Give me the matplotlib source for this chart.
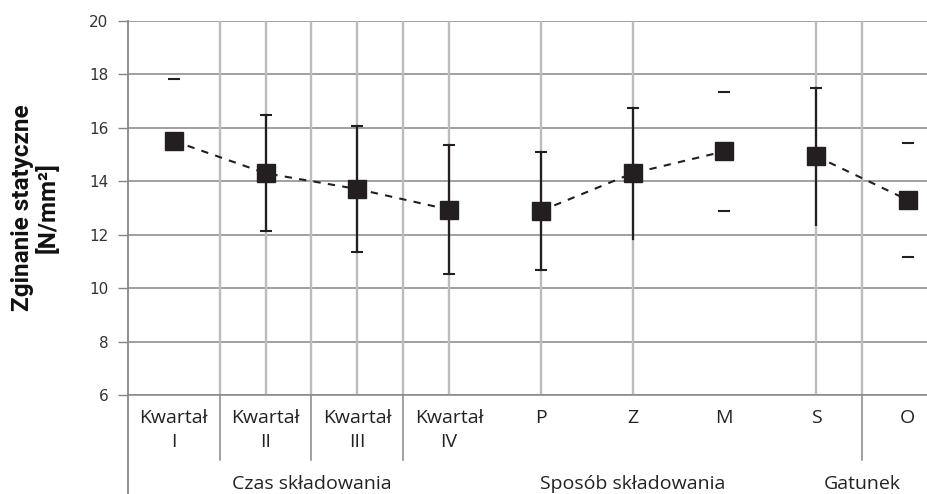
import matplotlib
matplotlib.use("Agg")
import matplotlib.pyplot as plt
import matplotlib.transforms as mtransforms

# ---- data ----
categories = ["Kwartał\nI", "Kwartał\nII", "Kwartał\nIII", "Kwartał\nIV", "P", "Z", "M", "S", "O"]
groups = ["Czas składowania", "Sposób składowania", "Gatunek"]
group_members = [[0, 1, 2, 3], [4, 5, 6], [7, 8]]
means = [15.51, 14.30, 13.71, 12.94, 12.89, 14.30, 15.12, 14.94, 13.30]
errors = [2.31, 2.17, 2.36, 2.42, 2.21, 2.46, 2.24, 2.56, 2.13]
y_ticks = [6, 8, 10, 12, 14, 16, 18, 20]

# rendering quirks of the original picture (style only)
stem_visible = [False, True, True, True, True, True, False, True, False]
lower_cap_visible = [False, True, True, True, True, False, True, False, True]
upper_cap_visible = [True, True, True, True, True, True, True, True, True]

W, H = 927, 494
fig = plt.figure(figsize=(W / 100, H / 100), dpi=100)
ax = fig.add_axes([128 / W, 99 / H, 799 / W, 374 / H])

narrow = ["Open Sans", "DejaVu Sans"]
dark = "#231f20"
grid_c = "#868686"
vline_c = "#bcbcbc"
text_c = "#222222"

ax.set_ylim(6, 20)
ax.set_xlim(-0.5, 8.21)
ax.set_yticks(y_ticks)
ax.set_yticklabels([str(v) for v in y_ticks], fontsize=11, color="#333333",
                   family=["DejaVu Sans"])
ax.tick_params(axis="y", length=7, width=1, color=grid_c, pad=7)
for v in y_ticks:
    ax.axhline(v, color=grid_c, lw=1.1, zorder=1)

# vertical lines
for xb in [0.5, 1.5, 2.5, 7.5]:
    ax.axvline(xb, color=vline_c, lw=1.7, zorder=1)
for i, s in enumerate(stem_visible):
    if s:
        ax.axvline(i, color=vline_c, lw=1.7, zorder=1)

for sp in ["top", "right"]:
    ax.spines[sp].set_visible(False)
ax.spines["left"].set_color(grid_c)
ax.spines["left"].set_linewidth(1.3)
ax.spines["bottom"].set_color(grid_c)
ax.spines["bottom"].set_linewidth(1.1)

# x tick labels
xs = list(range(len(categories)))
ax.set_xticks(xs)
ax.set_xticklabels(categories, fontsize=14, color=text_c, family=narrow,
                   linespacing=1.45)
ax.tick_params(axis="x", length=0, pad=10)

# separators below axis
trans = mtransforms.blended_transform_factory(ax.transData, ax.transAxes)
for xb in [0.5, 1.5, 2.5, 7.5]:
    ax.plot([xb, xb], [0, -0.174], transform=trans, color=grid_c, lw=1.1,
            clip_on=False)
ax.plot([-0.5, -0.5], [0, -0.27], transform=trans, color=grid_c, lw=1.3,
        clip_on=False)

# group labels
for g, mem in zip(groups, group_members):
    xc = (mem[0] + mem[-1]) / 2
    ax.text(xc, -0.238, g, transform=trans, ha="center", va="center",
            fontsize=14, color=text_c, family=narrow)

# dashed lines per group
for mem in group_members:
    ax.plot(mem, [means[i] for i in mem], color=dark, lw=1.5,
            dashes=(3.5, 3.5), zorder=3)

# error bars
for i, (m, e) in enumerate(zip(means, errors)):
    if stem_visible[i]:
        ax.plot([i, i], [m - e, m + e], color=dark, lw=1.6, zorder=4)
    if upper_cap_visible[i]:
        ax.plot([i], [m + e], marker="_", ms=9, mew=1.5, color=dark, zorder=4)
    if lower_cap_visible[i]:
        ax.plot([i], [m - e], marker="_", ms=9, mew=1.5, color=dark, zorder=4)

# markers
ax.plot(xs, means, linestyle="none", marker="s", ms=12.5, color=dark,
        zorder=5)

# y label
fig.text(35 / W, 1 - 208 / H, "Zginanie statyczne\n[N/mm²]", rotation=90,
         ha="center", va="center", fontsize=17.5, fontweight="bold",
         family=["Roboto", "DejaVu Sans"], color="#111111",
         linespacing=1.1)

fig.savefig("out.png", dpi=100)
